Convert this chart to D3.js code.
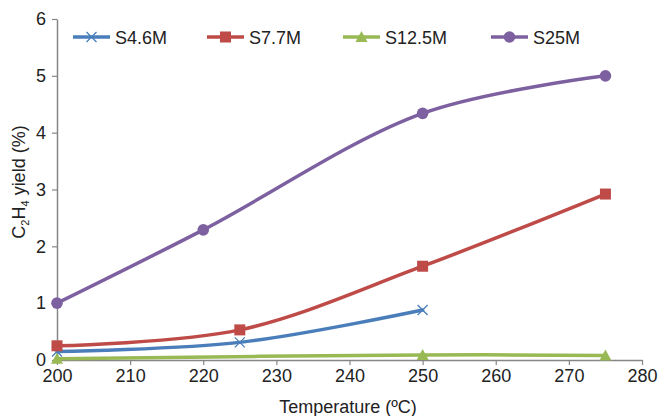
<!DOCTYPE html>
<html>
<head>
<meta charset="utf-8">
<script src="https://cdn.jsdelivr.net/npm/d3@7"></script>
<style>
  html, body { margin: 0; padding: 0; background: #fff; }
  svg { display: block; font-family: "Liberation Sans", Arial, Helvetica, sans-serif; }
</style>
</head>
<body>
<svg id="chart" width="659" height="416"></svg>
<script>
// Ethylene yield vs temperature for four samples
const seriesNames = ["S4.6M", "S7.7M", "S12.5M", "S25M"];
const tempS46 = [200, 225, 250];
const yieldS46 = [0.15, 0.31, 0.88];
const tempS77 = [200, 225, 250, 275];
const yieldS77 = [0.25, 0.53, 1.65, 2.92];
const tempS125 = [200, 250, 275];
const yieldS125 = [0.02, 0.09, 0.08];
const tempS25 = [200, 220, 250, 275];
const yieldS25 = [1.0, 2.29, 4.34, 5.0];
const xTicks = [200, 210, 220, 230, 240, 250, 260, 270, 280];
const yTicks = [0, 1, 2, 3, 4, 5, 6];

const colors = ["#4a7ebb", "#be4b48", "#98b954", "#7d60a0"];
const markers = ["cross", "square", "triangle", "circle"];

const series = [
  { name: seriesNames[0], t: tempS46, v: yieldS46 },
  { name: seriesNames[1], t: tempS77, v: yieldS77 },
  { name: seriesNames[2], t: tempS125, v: yieldS125 },
  { name: seriesNames[3], t: tempS25, v: yieldS25 }
].map((s, i) => ({ ...s, color: colors[i], marker: markers[i],
  pts: s.t.map((t, j) => ({ x: t, y: s.v[j] })) }));

const svg = d3.select("#chart");
const plotLeft = 57, plotRight = 642, plotTop = 19, plotBottom = 360;

const x = d3.scaleLinear().domain([200, 280]).range([plotLeft, plotRight]);
const y = d3.scaleLinear().domain([0, 6]).range([plotBottom, plotTop]);

const axisColor = "#868686";

// Axes
const gx = svg.append("g").attr("transform", `translate(0,${plotBottom})`)
  .call(d3.axisBottom(x).tickValues(xTicks).tickFormat(d3.format("d"))
    .tickSize(5).tickSizeOuter(0).tickPadding(4));
const gy = svg.append("g").attr("transform", `translate(${plotLeft},0)`)
  .call(d3.axisLeft(y).tickValues(yTicks).tickFormat(d3.format("d"))
    .tickSize(5).tickSizeOuter(0).tickPadding(6));
[gx, gy].forEach(g => {
  g.select(".domain").attr("stroke", axisColor).attr("stroke-width", 1.5);
  g.selectAll(".tick line").attr("stroke", axisColor).attr("stroke-width", 1.2);
  g.selectAll(".tick text").attr("fill", "#222").style("font-size", "18px")
    .style("font-family", "'Liberation Sans', Arial, sans-serif");
});

// Axis titles
svg.append("text").attr("x", 348).attr("y", 413).attr("text-anchor", "middle")
  .attr("fill", "#222").style("font-size", "18px").text("Temperature (ºC)");

const yTitle = svg.append("text")
  .attr("transform", "translate(25,182) rotate(-90)")
  .attr("text-anchor", "middle").attr("fill", "#222").style("font-size", "18px");
yTitle.append("tspan").text("C");
yTitle.append("tspan").attr("dy", 4).style("font-size", "11px").text("2");
yTitle.append("tspan").attr("dy", -4).text("H");
yTitle.append("tspan").attr("dy", 4).style("font-size", "11px").text("4");
yTitle.append("tspan").attr("dy", -4).text(" yield (%)");

// Marker drawing
function drawMarker(g, type, cx, cy, color) {
  if (type === "square") {
    g.append("rect").attr("x", cx - 5.5).attr("y", cy - 5.5).attr("width", 11).attr("height", 11)
      .attr("fill", color);
  } else if (type === "circle") {
    g.append("circle").attr("cx", cx).attr("cy", cy).attr("r", 5.8).attr("fill", color);
  } else if (type === "triangle") {
    g.append("path").attr("d", `M${cx},${cy - 6}L${cx + 6},${cy + 5}L${cx - 6},${cy + 5}Z`)
      .attr("fill", color);
  } else if (type === "cross") {
    g.append("path").attr("d", `M${cx - 5},${cy - 5}L${cx + 5},${cy + 5}M${cx - 5},${cy + 5}L${cx + 5},${cy - 5}`)
      .attr("stroke", color).attr("stroke-width", 1.3).attr("fill", "none");
  }
}

const line = d3.line().x(d => x(d.x)).y(d => y(d.y)).curve(d3.curveCatmullRom.alpha(0.5));

// Series lines (green first so the others sit on top near zero)
const order = [2, 0, 1, 3];
order.forEach(i => {
  const s = series[i];
  const g = svg.append("g");
  g.append("path").datum(s.pts).attr("d", line).attr("fill", "none")
    .attr("stroke", s.color).attr("stroke-width", 3.5).attr("stroke-linecap", "round");
  s.pts.forEach(p => drawMarker(g, s.marker, x(p.x), y(p.y), s.color));
});

// Legend
const legendX = [73, 207, 343, 491];
const legendY = 37;
series.forEach((s, i) => {
  const g = svg.append("g");
  const x0 = legendX[i];
  g.append("line").attr("x1", x0).attr("x2", x0 + 37).attr("y1", legendY).attr("y2", legendY)
    .attr("stroke", s.color).attr("stroke-width", 3.5);
  drawMarker(g, s.marker, x0 + 18.5, legendY, s.color);
  g.append("text").attr("x", x0 + 42).attr("y", legendY + 6.5).attr("fill", "#222")
    .style("font-size", "18px").text(s.name);
});
</script>
</body>
</html>
